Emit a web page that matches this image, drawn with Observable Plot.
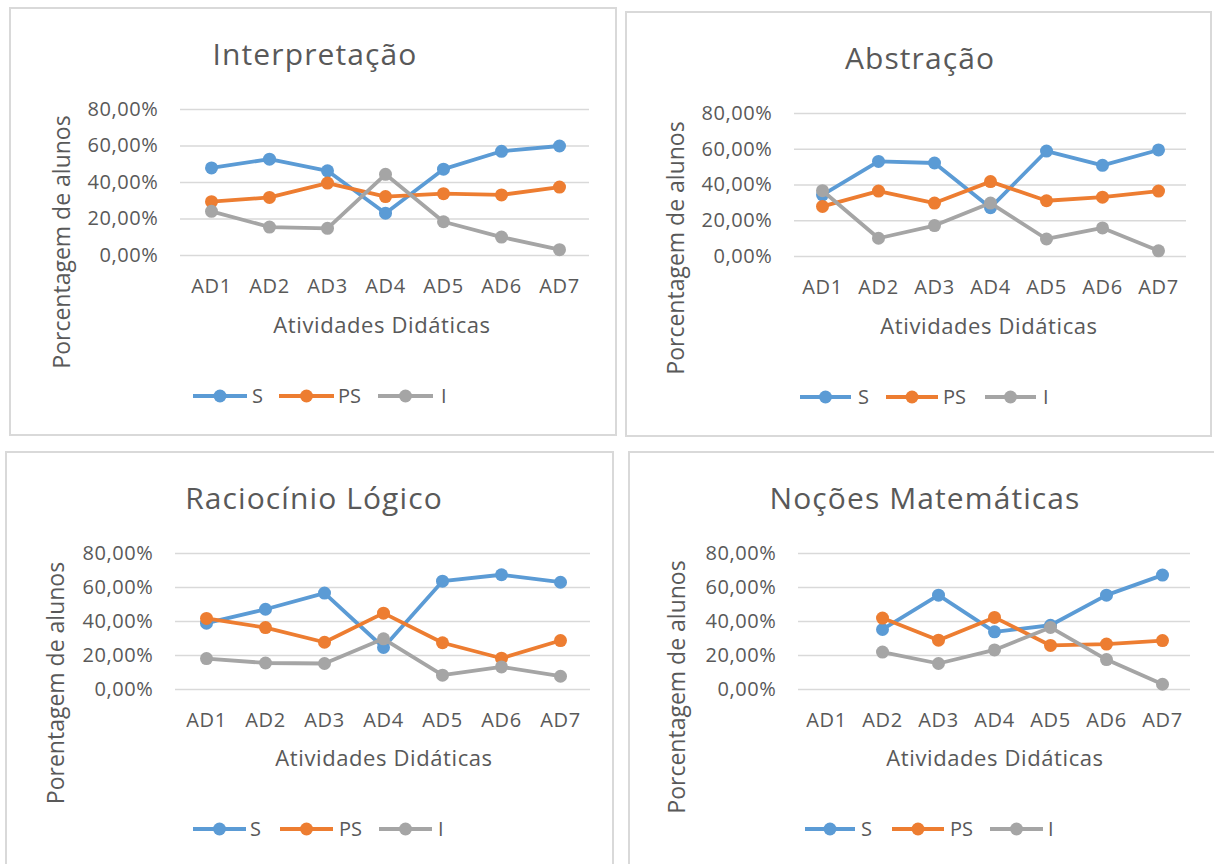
<!DOCTYPE html>
<html><head><meta charset="utf-8">
<script src="https://cdn.jsdelivr.net/npm/d3@7"></script>
<script src="https://cdn.jsdelivr.net/npm/@observablehq/plot@0.6"></script>
<style>
html,body{margin:0;padding:0;background:#fff;}
#root{position:relative;width:1214px;height:864px;overflow:hidden;font-family:"Open Sans",sans-serif;}
#root svg{position:absolute;}
.chartsvg text{letter-spacing:0.6px;}
</style></head><body><div id="root"></div>
<script>
// ---------- data ----------
const categories = ["AD1", "AD2", "AD3", "AD4", "AD5", "AD6", "AD7"];
const seriesNames = ["S", "PS", "I"];
const seriesColors = ["#5B9BD5", "#ED7D31", "#A5A5A5"];
const yTicks = [0, 20, 40, 60, 80];

const interpretacaoS  = [48.0, 52.8, 46.4, 23.2, 47.3, 57.1, 60.0];
const interpretacaoPS = [29.5, 31.8, 39.7, 32.3, 33.9, 33.2, 37.5];
const interpretacaoI  = [24.2, 15.6, 14.9, 44.5, 18.5, 10.1, 3.2];

const abstracaoS  = [34.5, 53.2, 52.3, 27.3, 59.0, 51.0, 59.6];
const abstracaoPS = [28.0, 36.6, 29.9, 41.9, 31.2, 33.2, 36.6];
const abstracaoI  = [36.8, 10.2, 17.3, 29.9, 9.8, 16.0, 3.2];

const raciocinioS  = [39.0, 47.2, 56.7, 24.7, 63.7, 67.5, 63.1];
const raciocinioPS = [41.8, 36.4, 27.8, 44.9, 27.5, 18.4, 28.8];
const raciocinioI  = [18.2, 15.6, 15.3, 29.8, 8.4, 13.3, 7.8];

const nocoesS  = [null, 35.3, 55.5, 33.9, 37.8, 55.5, 67.3];
const nocoesPS = [null, 42.0, 29.0, 42.4, 25.9, 26.7, 28.8];
const nocoesI  = [null, 22.0, 15.3, 23.3, 36.5, 17.6, 3.1];

const titles = ["Interpretação", "Abstração", "Raciocínio Lógico", "Noções Matemáticas"];
const xTitle = "Atividades Didáticas";
const yTitles = ["Porcentagem de alunos", "Porcentagem de alunos", "Porentagem de alunos", "Porcentagem de alunos"];

// ---------- layout ----------
const layout = [
  {values:[interpretacaoS, interpretacaoPS, interpretacaoI], box:[10,8,616,435], gx:[180,589], gy:[109,255],
   titleAt:[315,65], xTitleAt:[382,333], yTitleAt:[70,242], legendY:396, legend:[[193,247,252],[279,334,338],[378,433,441]]},
  {values:[abstracaoS, abstracaoPS, abstracaoI], box:[626,12,1211,436], gx:[794,1186], gy:[113,256],
   titleAt:[920,69], xTitleAt:[989,334], yTitleAt:[684,248], legendY:397, legend:[[800,851,858],[886,938,943],[985,1036,1043]]},
  {values:[raciocinioS, raciocinioPS, raciocinioI], box:[6,452,613,880], gx:[175,590], gy:[553,689],
   titleAt:[314,509], xTitleAt:[384,766], yTitleAt:[64,683], legendY:829, legend:[[193,246,250],[280,333,339],[379,432,438]]},
  {values:[nocoesS, nocoesPS, nocoesI], box:[629,452,1222,880], gx:[798,1190], gy:[553,689],
   titleAt:[925,509], xTitleAt:[995,766], yTitleAt:[685,687], legendY:829, legend:[[805,855,861],[892,944,950],[990,1043,1048]]}
];

const FONT = "'Open Sans', sans-serif";
const TEXT = "#595959";
const root = document.getElementById("root");

// overlay: borders, titles, axis titles, legends
const ov = d3.select(root).append("svg").attr("width",1214).attr("height",864).style("left","0px").style("top","0px")
  .attr("font-family", FONT).attr("fill", TEXT);
layout.forEach((L, k) => {
  const [x0,y0,x1,y1] = L.box;
  ov.append("rect").attr("x",x0).attr("y",y0).attr("width",x1-x0).attr("height",y1-y0)
    .attr("fill","none").attr("stroke","#d9d9d9").attr("stroke-width",2);
  ov.append("text").attr("x",L.titleAt[0]).attr("y",L.titleAt[1]).attr("text-anchor","middle")
    .attr("font-size",30).attr("letter-spacing","1.1px").text(titles[k]);
  ov.append("text").attr("x",L.xTitleAt[0]).attr("y",L.xTitleAt[1]).attr("text-anchor","middle")
    .attr("font-size",22).attr("letter-spacing","0.6px").text(xTitle);
  ov.append("text").attr("transform",`translate(${L.yTitleAt[0]},${L.yTitleAt[1]}) rotate(-90)`).attr("text-anchor","middle")
    .attr("font-size",23).text(yTitles[k]);
  L.legend.forEach(([a,b,t], i) => {
    ov.append("line").attr("x1",a).attr("x2",b).attr("y1",L.legendY).attr("y2",L.legendY)
      .attr("stroke",seriesColors[i]).attr("stroke-width",3.8);
    ov.append("circle").attr("cx",(a+b)/2).attr("cy",L.legendY).attr("r",6.5).attr("fill",seriesColors[i]);
    ov.append("text").attr("x",t).attr("y",L.legendY+7).attr("font-size",20).text(seriesNames[i]);
  });
});

// charts
const ml=160, mr=20, mt=20, mb=70;
const fmt = d => d.toFixed(2).replace(".", ",") + "%";
layout.forEach((L) => {
  const rows = [];
  seriesNames.forEach((s, i) => L.values[i].forEach((v, j) => { if (v != null) rows.push({series:s, cat:categories[j], value:v}); }));
  const marks = [
    Plot.gridY(yTicks, {stroke:"#d9d9d9", strokeOpacity:1, strokeWidth:1.3}),
    Plot.axisY(yTicks, {tickSize:0, tickPadding:22, tickFormat:fmt, label:null, fontSize:20, fill:TEXT}),
    Plot.axisX(categories, {tickSize:0, tickPadding:23, label:null, fontSize:20, fill:TEXT})
  ];
  seriesNames.forEach((s, i) => {
    const d = rows.filter(r => r.series === s);
    marks.push(Plot.lineY(d, {x:"cat", y:"value", stroke:seriesColors[i], strokeWidth:3.8}));
    marks.push(Plot.dot(d, {x:"cat", y:"value", r:6.5, fill:seriesColors[i], stroke:null}));
  });
  const chart = Plot.plot({
    width: L.gx[1]-L.gx[0]+ml+mr, height: L.gy[1]-L.gy[0]+mt+mb,
    marginLeft:ml, marginRight:mr, marginTop:mt, marginBottom:mb,
    className:"chartsvg",
    style:{fontFamily:FONT, fontSize:"20px", color:TEXT, background:"transparent", overflow:"visible"},
    x:{type:"point", domain:categories, padding:0.5},
    y:{domain:[0,80]},
    marks
  });
  chart.style.left = (L.gx[0]-ml) + "px";
  chart.style.top = (L.gy[0]-mt) + "px";
  root.appendChild(chart);
});
</script></body></html>
